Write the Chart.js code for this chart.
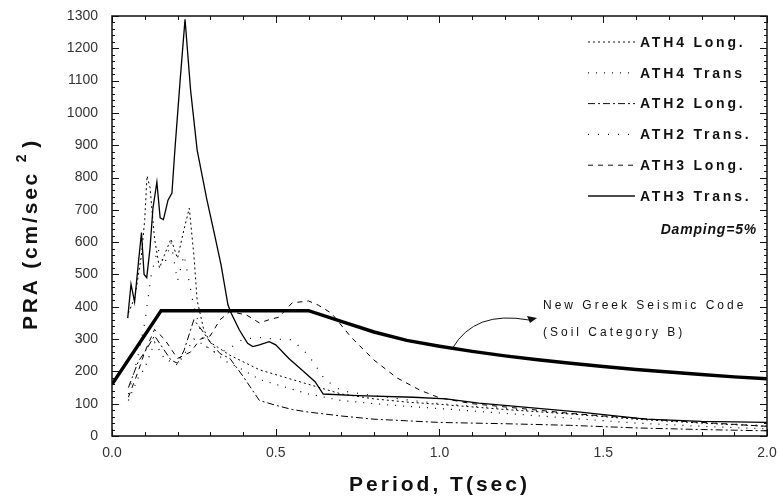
<!DOCTYPE html>
<html>
<head>
<meta charset="utf-8">
<script src="https://cdn.jsdelivr.net/npm/chart.js@4.4.0/dist/chart.umd.min.js"></script>
<style>
  html, body { margin: 0; padding: 0; background: #fff; }
  #wrap { width: 779px; height: 501px; }
</style>
</head>
<body>
<div id="wrap"><canvas id="canvas"></canvas></div>
<script>
// periods (sec) and PRA values (cm/sec^2)
var ath4LongT = [0.05, 0.07, 0.09, 0.1, 0.107, 0.116, 0.13, 0.145, 0.16, 0.18, 0.2, 0.22, 0.236, 0.25, 0.26, 0.28, 0.3, 0.33, 0.36, 0.4, 0.45, 0.5, 0.6, 0.7, 0.8, 0.9, 1.0, 1.2, 1.4, 1.6, 1.8, 2.0];
var ath4LongPRA = [380, 430, 560, 670, 805, 770, 610, 520, 560, 610, 550, 640, 705, 560, 420, 330, 290, 270, 250, 230, 205, 190, 160, 130, 115, 105, 98, 82, 68, 52, 40, 30];

var ath4TransT = [0.05, 0.08, 0.1, 0.13, 0.16, 0.2, 0.25, 0.3, 0.35, 0.4, 0.45, 0.5, 0.6, 0.7, 0.8, 0.9, 1.0, 1.2, 1.4, 1.6, 1.8, 2.0];
var ath4TransPRA = [110, 180, 210, 290, 240, 220, 300, 270, 230, 205, 175, 160, 130, 110, 100, 92, 85, 70, 55, 40, 30, 22];

var ath2LongT = [0.05, 0.08, 0.1, 0.13, 0.15, 0.18, 0.2, 0.22, 0.25, 0.28, 0.3, 0.33, 0.36, 0.4, 0.45, 0.5, 0.55, 0.6, 0.7, 0.8, 0.9, 1.0, 1.2, 1.4, 1.6, 1.8, 2.0];
var ath2LongPRA = [150, 230, 260, 310, 280, 235, 225, 265, 360, 320, 290, 255, 240, 185, 110, 95, 82, 74, 62, 52, 47, 42, 38, 33, 25, 20, 16];

var ath2TransT = [0.05, 0.08, 0.1, 0.12, 0.14, 0.16, 0.18, 0.2, 0.22, 0.25, 0.28, 0.3, 0.35, 0.4, 0.45, 0.5, 0.55, 0.6, 0.65, 0.7, 0.8, 0.9, 1.0, 1.2, 1.4, 1.6, 1.8, 2.0];
var ath2TransPRA = [130, 250, 350, 500, 580, 530, 600, 480, 560, 400, 290, 260, 265, 300, 305, 300, 298, 250, 175, 140, 125, 112, 100, 85, 70, 55, 42, 32];

var ath3LongT = [0.05, 0.08, 0.1, 0.13, 0.16, 0.2, 0.24, 0.27, 0.3, 0.33, 0.36, 0.41, 0.45, 0.48, 0.51, 0.55, 0.6, 0.63, 0.67, 0.73, 0.8, 0.87, 0.94, 1.0, 1.1, 1.2, 1.3, 1.4, 1.5, 1.6, 1.7, 1.8, 1.9, 2.0];
var ath3LongPRA = [120, 200, 260, 330, 300, 240, 260, 300, 310, 360, 385, 375, 350, 360, 368, 412, 418, 405, 380, 306, 235, 180, 142, 118, 100, 90, 80, 70, 62, 55, 48, 42, 36, 30];

var ath3TransT = [0.048, 0.058, 0.069, 0.081, 0.09, 0.098, 0.106, 0.116, 0.125, 0.137, 0.147, 0.157, 0.171, 0.183, 0.192, 0.208, 0.223, 0.24, 0.26, 0.29, 0.313, 0.333, 0.354, 0.364, 0.389, 0.414, 0.43, 0.45, 0.48, 0.5, 0.54, 0.58, 0.62, 0.645, 0.75, 0.92, 1.02, 1.12, 1.25, 1.43, 1.63, 1.8, 2.0];
var ath3TransPRA = [365, 470, 415, 540, 630, 500, 490, 580, 705, 786, 675, 670, 730, 752, 885, 1100, 1290, 1070, 885, 730, 624, 530, 406, 380, 328, 287, 277, 282, 292, 282, 240, 204, 168, 130, 125, 120, 115, 102, 90, 74, 52, 45, 42];

// New Greek Seismic Code design spectrum (Soil Category B)
var codeT = [0, 0.15, 0.6, 0.7, 0.8, 0.9, 1.0, 1.1, 1.2, 1.3, 1.4, 1.5, 1.6, 1.7, 1.8, 1.9, 2.0];
var codePRA = [160, 388, 388, 355, 322, 296, 278, 262, 248, 236, 225, 215, 206, 198, 190, 183, 177];

var yTicks = [0, 100, 200, 300, 400, 500, 600, 700, 800, 900, 1000, 1100, 1200, 1300];
var xTicks = [0.0, 0.5, 1.0, 1.5, 2.0];

var FONT = '"Liberation Sans", Arial, sans-serif';

function pts(t, v) {
  return t.map(function (x, i) { return { x: x, y: v[i] }; });
}

function series(label, t, v, dash, width) {
  return {
    label: label,
    data: pts(t, v),
    borderColor: '#000',
    backgroundColor: 'transparent',
    borderWidth: width,
    borderDash: dash,
    pointRadius: 0,
    tension: 0,
  };
}

var datasets = [
  series('ATH4 Long.', ath4LongT, ath4LongPRA, [2, 3], 1),
  series('ATH4 Trans', ath4TransT, ath4TransPRA, [1, 7], 1.2),
  series('ATH2 Long.', ath2LongT, ath2LongPRA, [7, 3, 2, 3], 1),
  series('ATH2 Trans.', ath2TransT, ath2TransPRA, [1, 9], 1.2),
  series('ATH3 Long.', ath3LongT, ath3LongPRA, [5, 5], 1),
  series('ATH3 Trans.', ath3TransT, ath3TransPRA, [], 1.3),
  series('New Greek Seismic Code', codeT, codePRA, [], 3.5),
];

function spacedText(ctx, txt, x, y, spacing) {
  ctx.letterSpacing = spacing + 'px';
  ctx.fillText(txt, x, y);
  ctx.letterSpacing = '0px';
}

// frame, inward ticks, legend, titles and the annotation
var decor = {
  id: 'decor',
  afterDatasetsDraw: function (chart) {
    var ctx = chart.ctx;
    var a = chart.chartArea;
    var xs = chart.scales.x, ys = chart.scales.y;
    ctx.save();
    ctx.strokeStyle = '#111';
    ctx.lineWidth = 1.5;
    ctx.strokeRect(a.left, a.top, a.right - a.left, a.bottom - a.top);

    ctx.lineWidth = 1;
    ctx.beginPath();
    for (var v = 0; v <= 2.0001; v += 0.1) {
      var px = Math.round(xs.getPixelForValue(v)) + 0.5;
      var major = Math.abs(v * 2 - Math.round(v * 2)) < 1e-6;
      var len = major ? 7 : 4;
      ctx.moveTo(px, a.bottom); ctx.lineTo(px, a.bottom - len);
      ctx.moveTo(px, a.top); ctx.lineTo(px, a.top + len);
    }
    for (var w = 0; w <= 1300; w += 20) {
      var py = Math.round(ys.getPixelForValue(w)) + 0.5;
      var len2 = (w % 100 === 0) ? 7 : 3;
      ctx.moveTo(a.left, py); ctx.lineTo(a.left + len2, py);
      ctx.moveTo(a.right, py); ctx.lineTo(a.right - len2, py);
    }
    ctx.stroke();

    // legend
    ctx.fillStyle = '#111';
    ctx.textBaseline = 'middle';
    ctx.textAlign = 'left';
    ctx.font = 'bold 14px ' + FONT;
    for (var i = 0; i < 6; i++) {
      var ds = chart.data.datasets[i];
      var ly = 42 + i * 30.8;
      ctx.beginPath();
      ctx.setLineDash(ds.borderDash);
      ctx.lineWidth = ds.borderWidth;
      ctx.moveTo(588, ly);
      ctx.lineTo(635, ly);
      ctx.stroke();
      ctx.setLineDash([]);
      spacedText(ctx, ds.label, 640, ly + 1, 2.8);
    }
    ctx.font = 'italic bold 14px ' + FONT;
    ctx.textAlign = 'right';
    spacedText(ctx, 'Damping=5%', 757, 230, 0.8);

    // annotation for the design spectrum
    var sx = xs.getPixelForValue(1.04), sy = ys.getPixelForValue(272);
    var tx = 537, ty = 318;
    ctx.beginPath();
    ctx.lineWidth = 1;
    ctx.moveTo(sx, sy);
    ctx.quadraticCurveTo(sx + 22, sy - 38, tx - 8, ty + 2);
    ctx.stroke();
    ctx.beginPath();
    ctx.moveTo(tx, ty);
    ctx.lineTo(tx - 10, ty - 2);
    ctx.lineTo(tx - 7, ty + 5);
    ctx.closePath();
    ctx.fill();

    ctx.font = '12px ' + FONT;
    ctx.textAlign = 'left';
    spacedText(ctx, 'New Greek Seismic Code', 543, 306, 3.0);
    spacedText(ctx, '(Soil Category B)', 543, 333, 3.0);

    // axis titles
    ctx.font = 'bold 21px ' + FONT;
    ctx.textAlign = 'center';
    spacedText(ctx, 'Period, T(sec)', (a.left + a.right) / 2, 485, 3);

    ctx.translate(31, 234);
    ctx.rotate(-Math.PI / 2);
    ctx.textAlign = 'left';
    var main = 'PRA (cm/sec ';
    ctx.letterSpacing = '2.8px';
    var wMain = ctx.measureText(main).width;
    ctx.font = 'bold 14px ' + FONT;
    var wSup = ctx.measureText('2').width;
    ctx.font = 'bold 21px ' + FONT;
    var wEnd = ctx.measureText(')').width;
    var x0 = -(wMain + wSup + 4 + wEnd) / 2;
    ctx.fillText(main, x0, 0);
    ctx.font = 'bold 14px ' + FONT;
    ctx.fillText('2', x0 + wMain, -9);
    ctx.font = 'bold 21px ' + FONT;
    ctx.fillText(')', x0 + wMain + wSup + 4, 0);
    ctx.letterSpacing = '0px';
    ctx.restore();
  }
};

new Chart(document.getElementById('canvas'), {
  type: 'line',
  data: { datasets: datasets },
  options: {
    responsive: true,
    maintainAspectRatio: false,
    animation: false,
    layout: { padding: { left: 0, right: 12, top: 16, bottom: 0 } },
    plugins: {
      legend: { display: false },
      tooltip: { enabled: false },
    },
    scales: {
      x: {
        type: 'linear',
        min: 0,
        max: 2,
        afterBuildTicks: function (scale) {
          scale.ticks = xTicks.map(function (v) { return { value: v }; });
        },
        afterFit: function (scale) {
          scale.height = 65;
          scale.paddingLeft = 0;
          scale.paddingRight = 0;
        },
        grid: { display: false, drawTicks: false },
        border: { display: false },
        ticks: {
          color: '#333',
          padding: 9,
          maxRotation: 0,
          font: { family: FONT, size: 14 },
          callback: function (v) { return Number(v).toFixed(1); },
        },
      },
      y: {
        type: 'linear',
        min: 0,
        max: 1300,
        afterBuildTicks: function (scale) {
          scale.ticks = yTicks.map(function (v) { return { value: v }; });
        },
        afterFit: function (scale) {
          scale.width = 112;
          scale.paddingTop = 0;
          scale.paddingBottom = 0;
        },
        grid: { display: false, drawTicks: false },
        border: { display: false },
        ticks: {
          color: '#333',
          padding: 14,
          font: { family: FONT, size: 14 },
          callback: function (v) { return String(v); },
        },
      },
    },
  },
  plugins: [decor],
});
</script>
</body>
</html>
